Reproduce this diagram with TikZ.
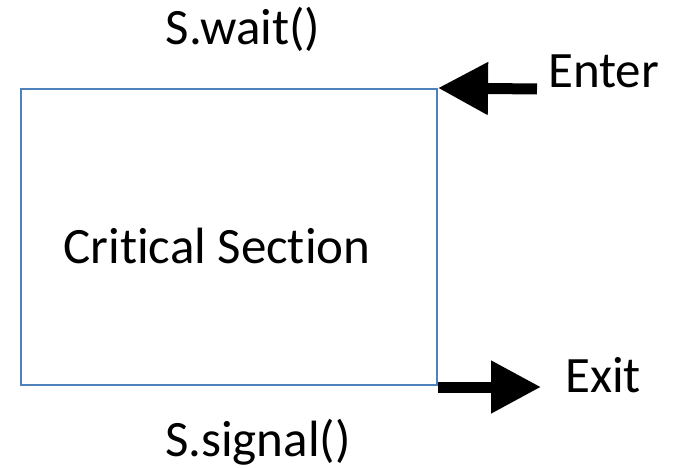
\documentclass[tikz,border=0pt]{standalone}
\usepackage{fontspec}
\setmainfont{Carlito}[Ligatures=NoCommon]
\usetikzlibrary{arrows.meta}

\definecolor{boxblue}{HTML}{4F81BD}

\begin{document}
\begin{tikzpicture}[
  x=1pt, y=-1pt,
  csbox/.style={draw=boxblue, line width=2pt, minimum width=416pt, minimum height=296pt, inner sep=0pt},
  lbl/.style={font=\fontsize{51}{60}\selectfont, inner sep=0pt},
  fatarrow/.style={line width=11pt, -{Triangle[length=50pt,width=50pt]}},
]
\useasboundingbox (0,0) rectangle (677,468);

\node [csbox] (cs) at (229,237) {};
\node [lbl, anchor=base] (cstext) at (217,263) {Critical Section};

\node [lbl, anchor=base] (wait) at (243,45) {S.wait()};
\node [lbl, anchor=base] (signal) at (258,456) {S.signal()};

\node [lbl, anchor=base west] (enter) at (548,88) {Enter};
\node [lbl, anchor=base west] (exit) at (565,392) {Exit};

\coordinate (enterstart) at (537,89);
\coordinate (exitend) at (541,387);

\draw [fatarrow] (enterstart) -- (cs.north east);
\draw [fatarrow] (cs.south east |- exitend) -- (exitend);

\end{tikzpicture}
\end{document}
